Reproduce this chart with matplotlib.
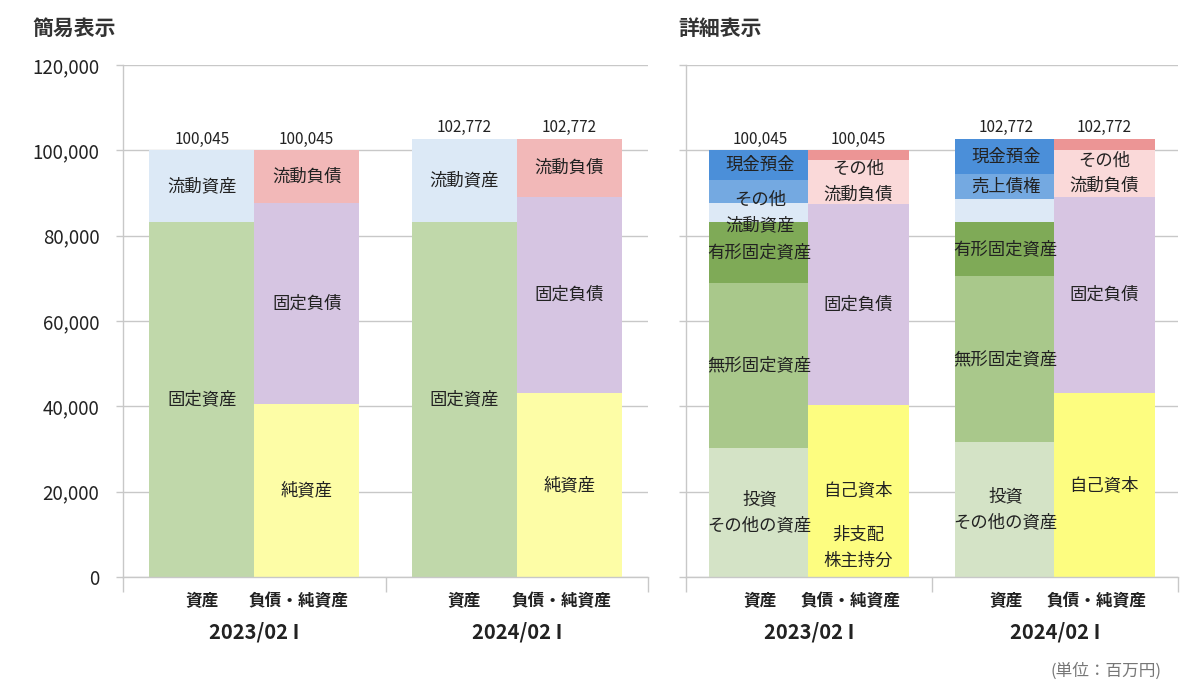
import matplotlib
matplotlib.use("Agg")
import matplotlib.pyplot as plt
from matplotlib.ticker import FuncFormatter

plt.rcParams["font.family"] = ["Noto Sans CJK JP", "DejaVu Sans"]

# ------------------------------------------------------------------
# Data (百万円)
# ------------------------------------------------------------------
periods = ["2023/02 I", "2024/02 I"]
totals = [100045, 102772]

# 簡易表示: stacked bottom -> top
simple_asset_items = ["固定資産", "流動資産"]
simple_assets_2023 = [83200, 16845]
simple_assets_2024 = [83200, 19572]
simple_asset_colors = ["#c0d8aa", "#dce9f6"]

simple_liab_items = ["純資産", "固定負債", "流動負債"]
simple_liab_2023 = [40500, 47100, 12445]
simple_liab_2024 = [43100, 46000, 13672]
simple_liab_colors = ["#fdfda6", "#d6c5e2", "#f2b8b8"]

# 詳細表示: stacked bottom -> top
detail_asset_items = ["投資\nその他の資産", "無形固定資産", "有形固定資産",
                      "その他\n流動資産", "売上債権", "現金預金"]
detail_assets_2023 = [30230, 38670, 14300, 4450, 5390, 7005]
detail_assets_2024 = [31600, 38900, 12700, 5400, 5800, 8372]
detail_asset_colors = ["#d4e3c6", "#a9c88b", "#7faa57",
                       "#dde9f6", "#74a9e1", "#4b8fd9"]
# which segment labels are shown in the reference
detail_asset_show_2023 = [True, True, True, True, False, True]
detail_asset_show_2024 = [True, True, True, False, True, True]

detail_liab_items = ["非支配\n株主持分", "自己資本", "固定負債",
                     "その他\n流動負債", "短期借入金"]
detail_liab_2023 = [200, 40200, 47000, 10300, 2345]
detail_liab_2024 = [0, 43100, 46000, 11000, 2672]
detail_liab_colors = ["#fdfd80", "#fdfd80", "#d7c5e2", "#fad9d9", "#ec9595"]
detail_liab_show_2023 = [True, True, True, True, False]
detail_liab_show_2024 = [False, True, True, True, False]

TEXT = "#222222"
GRID = "#c8c8c8"
BAR_W = 0.4


def stack(ax, x, values, colors, items, show, width=BAR_W):
    bottom = 0
    for v, c, name, s in zip(values, colors, items, show):
        if v > 0:
            ax.bar(x, v, width=width, bottom=bottom, color=c, linewidth=0, zorder=2)
        if s:
            y = bottom + v / 2
            if name.startswith("非支配"):
                # tiny segment, label is lifted into the bar
                y = 6800
            ax.text(x, y, name, ha="center", va="center", fontsize=12.5,
                    color=TEXT, linespacing=1.55, zorder=4)
        bottom += v


def setup(ax, show_ylabels):
    ax.set_xlim(0, 2)
    ax.set_ylim(0, 120000)
    ax.set_yticks(range(0, 120001, 20000))
    ax.yaxis.set_major_formatter(FuncFormatter(lambda v, p: f"{int(v):,}"))
    ax.grid(axis="y", color=GRID, linewidth=1)
    ax.set_axisbelow(True)
    for side in ["top", "right"]:
        ax.spines[side].set_visible(False)
    for side in ["left", "bottom"]:
        ax.spines[side].set_color(GRID)
        ax.spines[side].set_linewidth(1)
    ax.set_xticks([0, 1, 2])
    ax.set_xticklabels([])
    ax.tick_params(axis="x", length=11, color=GRID, width=1)
    ax.tick_params(axis="y", length=5, color=GRID, width=1,
                   labelsize=13.5, labelcolor=TEXT, pad=12,
                   labelleft=show_ylabels)
    tr = ax.get_xaxis_transform()
    for i, p in enumerate(periods):
        ax.text(i + 0.3, -0.047, "資産", transform=tr, ha="center", va="center",
                fontsize=12, fontweight="bold", color=TEXT)
        ax.text(i + 0.67, -0.047, "負債・純資産", transform=tr, ha="center",
                va="center", fontsize=12, fontweight="bold", color=TEXT)
        ax.text(i + 0.5, -0.108, p, transform=tr, ha="center", va="center",
                fontsize=14.5, fontweight="bold", color=TEXT)
        for dx in (0.3, 0.7):
            ax.text(i + dx, totals[i] + 600, f"{totals[i]:,}", ha="center",
                    va="bottom", fontsize=11, color=TEXT)


fig = plt.figure(figsize=(12, 6.91), dpi=100)
ax_l = fig.add_axes([123 / 1200, 1 - 577 / 691, 525 / 1200, 512 / 691])
ax_r = fig.add_axes([686 / 1200, 1 - 577 / 691, 492 / 1200, 512 / 691])

setup(ax_l, True)
setup(ax_r, False)

stack(ax_l, 0.3, simple_assets_2023, simple_asset_colors, simple_asset_items, [True] * 2)
stack(ax_l, 1.3, simple_assets_2024, simple_asset_colors, simple_asset_items, [True] * 2)
stack(ax_l, 0.7, simple_liab_2023, simple_liab_colors, simple_liab_items, [True] * 3)
stack(ax_l, 1.7, simple_liab_2024, simple_liab_colors, simple_liab_items, [True] * 3)

stack(ax_r, 0.3, detail_assets_2023, detail_asset_colors, detail_asset_items,
      detail_asset_show_2023, width=0.41)
stack(ax_r, 1.3, detail_assets_2024, detail_asset_colors, detail_asset_items,
      detail_asset_show_2024, width=0.41)
stack(ax_r, 0.7, detail_liab_2023, detail_liab_colors, detail_liab_items,
      detail_liab_show_2023, width=0.41)
stack(ax_r, 1.7, detail_liab_2024, detail_liab_colors, detail_liab_items,
      detail_liab_show_2024, width=0.41)

fig.text(32 / 1200, 1 - 28 / 691, "簡易表示", ha="left", va="center",
         fontsize=15, fontweight="bold", color="#333333")
fig.text(678 / 1200, 1 - 28 / 691, "詳細表示", ha="left", va="center",
         fontsize=15, fontweight="bold", color="#333333")
fig.text(1162 / 1200, 1 - 671 / 691, "(単位：百万円)", ha="right", va="center",
         fontsize=12, color="#777777")

fig.savefig("out.png", dpi=100)
